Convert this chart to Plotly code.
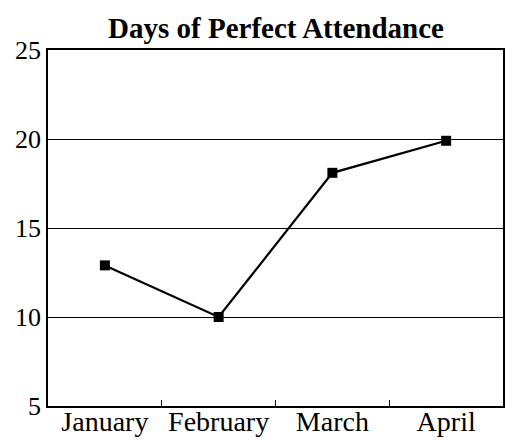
import plotly.graph_objects as go

months = ["January", "February", "March", "April"]
days = [12.9, 10, 18.1, 19.9]
y_ticks = [5, 10, 15, 20, 25]

# the page body adds an 8px margin, so the figure is sized 8px smaller
W, H = 509, 432

fig = go.Figure(go.Scatter(
    x=months, y=days, mode="lines+markers",
    line=dict(color="black", width=2.2),
    marker=dict(symbol="square", size=10, color="black"),
))

fig.update_layout(
    width=W, height=H,
    margin=dict(l=40, r=14, t=42, b=34, autoexpand=False),
    paper_bgcolor="white", plot_bgcolor="white",
    showlegend=False,
    title=dict(text="<b>Days of Perfect Attendance</b>", x=268 / W, xanchor="center",
               y=1 - 30 / H, yanchor="bottom", automargin=False,
               font=dict(family="Liberation Serif", size=29, color="black")),
    font=dict(family="Liberation Serif", color="black"),
)
fig.update_xaxes(
    type="category", range=[-0.5, 3.5], automargin=False,
    tickson="boundaries", ticks="inside", ticklen=6, tickcolor="black", tickwidth=1,
    ticklabelstandoff=-10,
    showline=True, linecolor="black", linewidth=1.5, mirror=True,
    showgrid=False, tickfont=dict(size=28, color="black"),
)
fig.update_yaxes(
    range=[5, 25], tickvals=y_ticks, ticks="", automargin=False,
    showline=True, linecolor="black", linewidth=1.5, mirror=True,
    showgrid=True, gridcolor="black", gridwidth=1, zeroline=False,
    tickfont=dict(size=26, color="black"),
)

fig.write_html("out.html")
